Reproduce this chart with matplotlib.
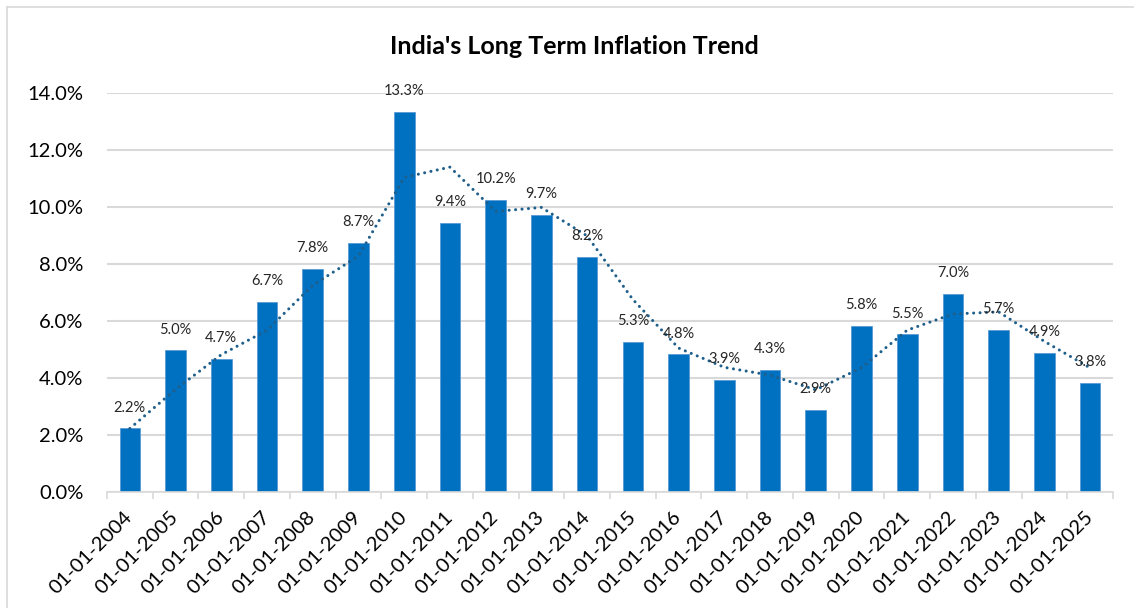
"""India long term inflation trend"""
import matplotlib
matplotlib.use("Agg")
import matplotlib.pyplot as plt
import pandas as pd
from matplotlib.lines import Line2D
from matplotlib.ticker import FixedLocator, FuncFormatter

years = list(range(2004, 2026))
labels = [f"01-01-{y}" for y in years]
inflation = [2.23, 4.97, 4.67, 6.68, 7.83, 8.73, 13.35, 9.45, 10.24, 9.73, 8.24,
             5.27, 4.83, 3.92, 4.28, 2.89, 5.83, 5.53, 6.96, 5.68, 4.89, 3.82]

plt.rcParams["font.family"] = ["Lato", "DejaVu Sans"]

W, H = 1134, 608
fig = plt.figure(figsize=(W / 100, H / 100), dpi=100)
ax = fig.add_axes([107 / W, 1 - 492 / H, (1113 - 107) / W, (492 - 93) / H])

x = list(range(len(years)))
ax.bar(x, inflation, width=0.45, color="#0070C0", edgecolor="#5b9bd5",
       linewidth=0.6, zorder=2)

# 2 period moving average trendline
trend = pd.Series(inflation).rolling(2, min_periods=1).mean()
ax.plot(x, trend, color="#1f5f8b", lw=2.2, linestyle=(0, (0.01, 2.1)),
        dash_capstyle="round", zorder=3)

for xi, v in zip(x, inflation):
    ax.annotate(f"{v:.1f}%", (xi, v), xytext=(0, 15), textcoords="offset points",
                ha="center", va="center", fontsize=10.5, color="#262626", zorder=4)

ax.set_xlim(-0.5, len(years) - 0.5)
ax.set_ylim(0, 14)
ax.yaxis.set_major_locator(FixedLocator([0, 2, 4, 6, 8, 10, 12, 14]))
ax.yaxis.set_major_formatter(FuncFormatter(lambda v, p: f"{v:.1f}%"))
ax.yaxis.grid(True, color="#d9d9d9", lw=1.5, zorder=0)
ax.set_axisbelow(True)

ax.set_xticks(x)
ax.set_xticklabels(labels, rotation=45, ha="right", va="center",
                   rotation_mode="anchor", fontsize=14.5, color="#000000")
ax.xaxis.set_minor_locator(FixedLocator([i - 0.5 for i in range(len(years) + 1)]))
ax.tick_params(axis="x", which="major", length=0, pad=16)
ax.tick_params(axis="x", which="minor", length=5, width=1.2, color="#d9d9d9")
ax.tick_params(axis="y", length=0, pad=17, labelsize=14.5, labelcolor="#000000")

for s in ["top", "right", "left"]:
    ax.spines[s].set_visible(False)
ax.spines["bottom"].set_color("#d9d9d9")
ax.spines["bottom"].set_linewidth(1.2)

fig.text(574 / W, 1 - 46 / H, "India's Long Term Inflation Trend", ha="center",
         va="center", fontsize=18, fontweight="bold", color="#000000")

# chart area border
fig.add_artist(Line2D([7 / W, 7 / W], [0, 1 - 7 / H], color="#d9d9d9", lw=1.2,
                      transform=fig.transFigure))
fig.add_artist(Line2D([7 / W, 1], [1 - 7 / H, 1 - 7 / H], color="#d9d9d9", lw=1.2,
                      transform=fig.transFigure))

fig.savefig("out.png", dpi=100)
